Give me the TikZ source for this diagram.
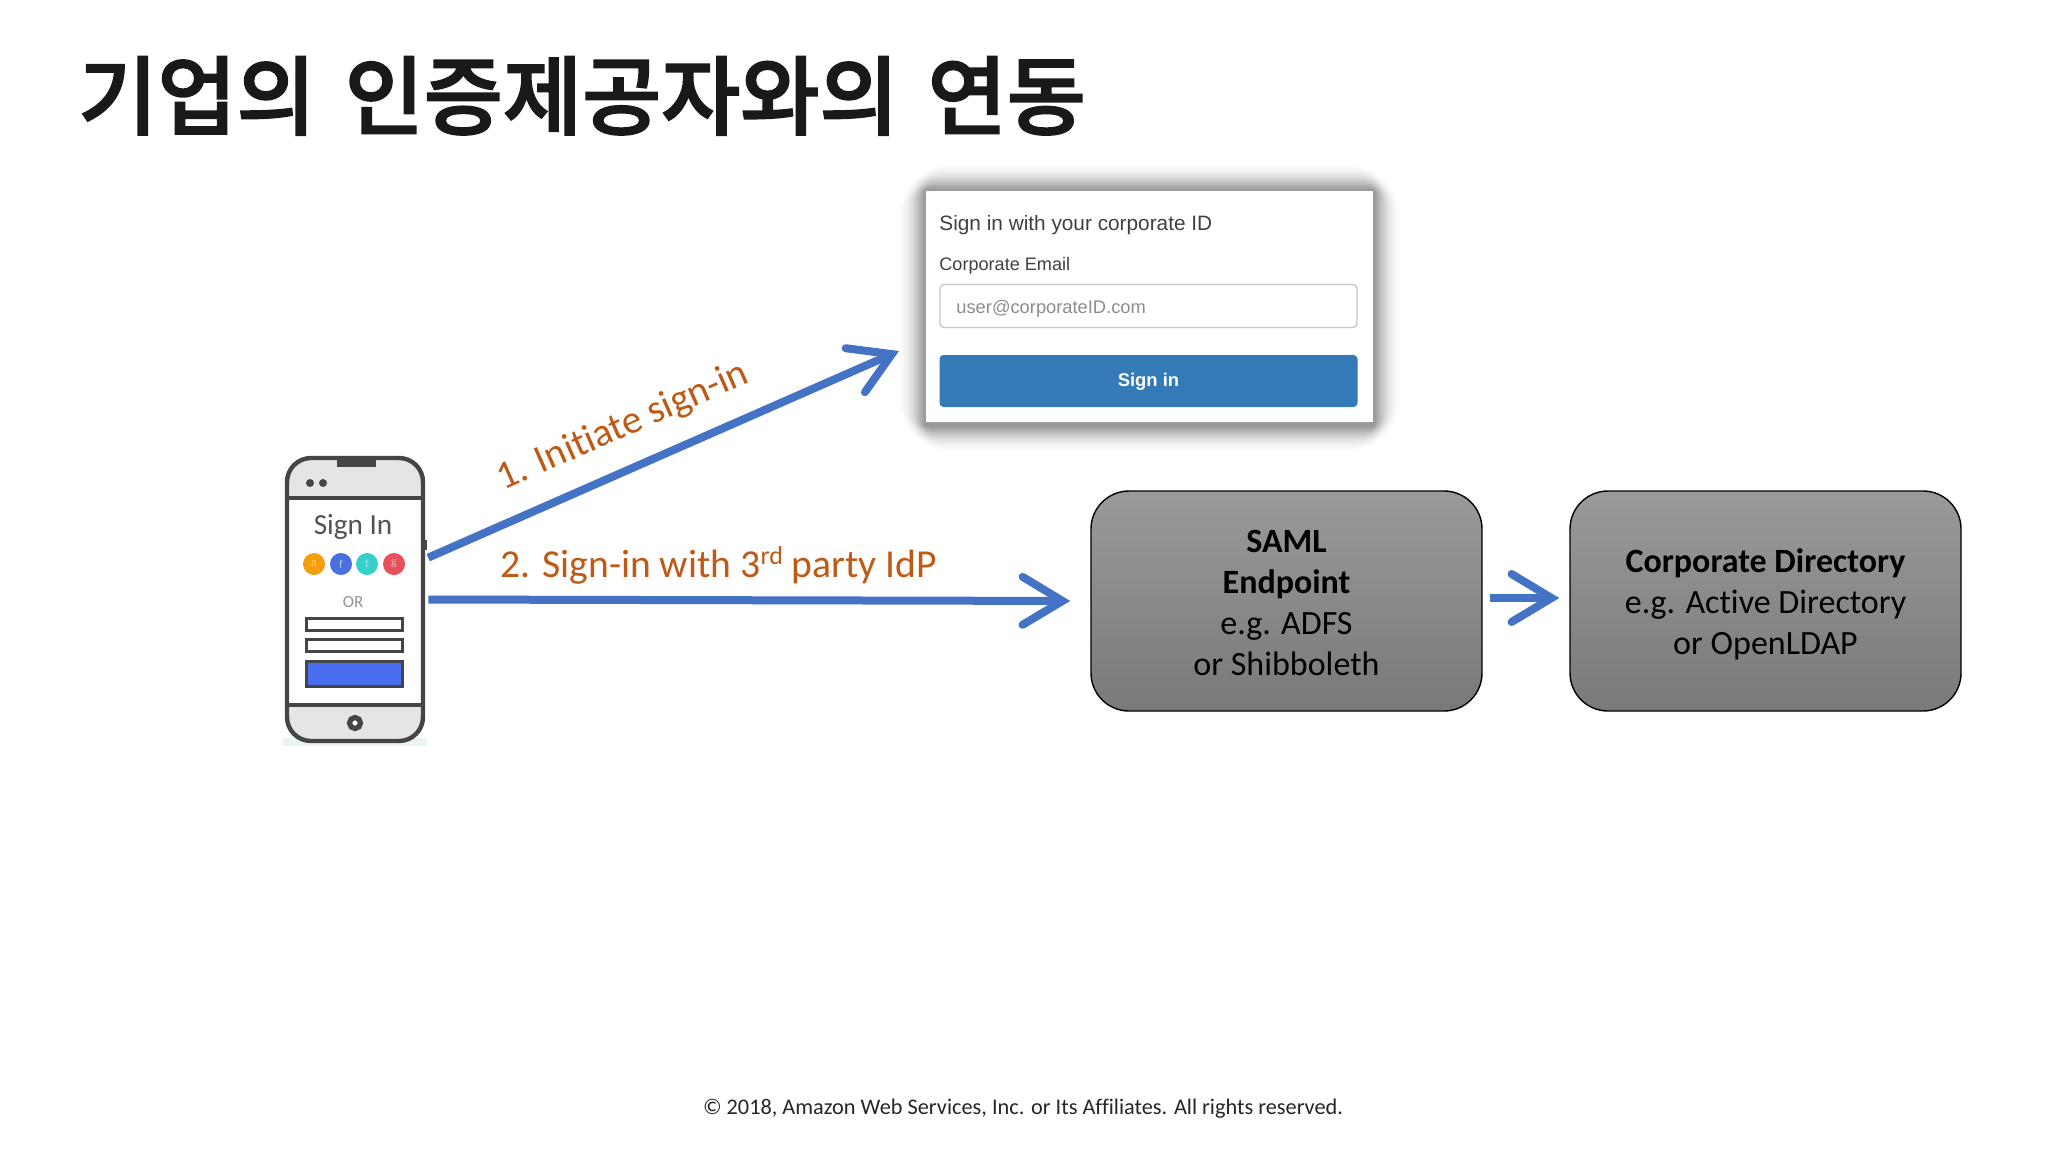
\documentclass[tikz,border=0pt]{standalone}
\usepackage{fontspec}
\setmainfont[Ligatures=NoCommon]{Carlito}
\newfontfamily\krfont[WordSpace=1.5,FakeBold=2]{Noto Sans CJK KR Medium}
\newfontfamily\arialfont{Liberation Sans}
\usetikzlibrary{arrows.meta,calc,shadings}
\definecolor{flow}{HTML}{4472C4}
\definecolor{lbl}{HTML}{BD5A16}
\definecolor{phoneink}{HTML}{454545}
\definecolor{phoneband}{HTML}{E4E5E6}
\definecolor{boxtop}{HTML}{9B999B}
\definecolor{boxbot}{HTML}{7A787A}
\definecolor{cardblue}{HTML}{337AB7}
\definecolor{phonestrip}{HTML}{EAF4F2}
\definecolor{phoneblue}{HTML}{4A6EF0}
\definecolor{socialA}{HTML}{F59E0B}
\definecolor{socialB}{HTML}{4A6FE0}
\definecolor{socialC}{HTML}{35D0CC}
\definecolor{socialD}{HTML}{E8505B}
\newcommand{\fs}[2]{\fontsize{#1pt}{#2pt}\selectfont}
\tikzset{
  flowline/.style={draw=flow,line width=4pt,-{Straight Barb[length=20pt,width=24pt,line width=4pt,line cap=round,line join=miter]}},
  idpbox/.style={draw=black,line width=0.7pt,rounded corners=19pt,top color=boxtop,bottom color=boxbot,
    minimum width=195.5pt,minimum height=110pt,inner sep=0pt,align=center,font=\fs{17}{20.4},text=black},
  cardtext/.style={anchor=base west,inner sep=0pt,font=\arialfont},
  flowlabel/.style={text=lbl,inner sep=0pt,font=\fs{19.8}{22}},
  phonefield/.style={draw=phoneink,line width=1.5pt,inner sep=0pt,fill=white,minimum width=48pt},
  social/.style={circle,minimum size=11pt,inner sep=0pt,text=white,text opacity=0.55,font=\fs{6}{7}},
}
\begin{document}
\begin{tikzpicture}[x=0.5pt,y=-0.5pt]
\useasboundingbox (0,0) rectangle (2048,1152);
\fill[white] (0,0) rectangle (2048,1152);

% title and footer
\node[anchor=base west,inner sep=0pt,text=black!90,font={\krfont\fs{43}{50}}] (title) at (78,128) {기업의 인증제공자와의 연동};
\node[anchor=base,inner sep=0pt,text=black!85,font=\fs{11.15}{13}] (footer) at (1023,1114) {© 2018, Amazon Web Services, Inc. or Its Affiliates. All rights reserved.};

% sign-in card with soft shadow
\foreach \r in {1,...,30}{
  \pgfmathsetmacro{\shade}{0.03*(1-\r/31)}
  \fill[black,opacity=\shade,rounded corners=\r*1pt] (926-\r,191-\r) rectangle (1373+\r,425+\r);
}
\node[fill=white,minimum width=223.5pt,minimum height=115.5pt,inner sep=0pt] (card) at (1149.5,306.5) {};
\node[cardtext,text=black!75,font={\arialfont\fs{10.4}{12}}] (cardhead) at (939,230) {Sign in with your corporate ID};
\node[cardtext,text=black!75,font={\arialfont\fs{9.05}{11}}] (cardmail) at (939,270) {Corporate Email};
\node[draw=black!22,line width=0.7pt,rounded corners=2pt,fill=white,minimum width=208.5pt,minimum height=21.5pt,inner sep=0pt] (cardinput) at (1148.5,306) {};
\node[cardtext,text=black!45,font={\arialfont\fs{9.15}{11}}] (cardhint) at (956,313) {user@corporateID.com};
\node[fill=cardblue,rounded corners=2pt,minimum width=209pt,minimum height=26pt,inner sep=0pt] (cardbtn) at (1148.5,381) {};
\node[inner sep=0pt,text=white,font={\arialfont\bfseries\fs{9.2}{11}}] (cardbtntext) at (1148.5,382) {Sign in};

% phone
\node[minimum width=70pt,minimum height=143.5pt,inner sep=0pt] (phone) at (355,599.5) {};
\fill[phonestrip] (283,738) rectangle (427,746);
\fill[white,rounded corners=12pt] (287,458) rectangle (423,741);
\begin{scope}
  \clip[rounded corners=12pt] (287,458) rectangle (423,741);
  \fill[phoneband] (287,458) rectangle (423,498);
  \fill[phoneband] (287,705) rectangle (423,741);
  \draw[phoneink,line width=2pt] (287,498) -- (423,498);
  \draw[phoneink,line width=2pt] (287,705) -- (423,705);
  \fill[phoneink] (337,456) rectangle (376,467);
\end{scope}
\draw[phoneink,line width=2.2pt,rounded corners=12pt] (287,458) rectangle (423,741);
\fill[phoneink] (424,540) rectangle (427,550);
\fill[phoneink] (310,483) circle[radius=4];
\fill[phoneink] (323,483) circle[radius=4];
\node[inner sep=0pt,text=black!68,font=\fs{14.6}{18}] (signin) at (353,527) {Sign In};
\node[social,fill=socialA] (sa) at (314,564) {a};
\node[social,fill=socialB] (sb) at (341,564) {f};
\node[social,fill=socialC] (sc) at (367,564) {t};
\node[social,fill=socialD] (sd) at (394,564) {g};
\node[inner sep=0pt,text=black!42,font=\fs{8.5}{10}] (orlabel) at (353,602) {OR};
\node[phonefield,minimum height=6pt] (fa) at (354,624) {};
\node[phonefield,minimum height=6pt] (fb) at (354,645.5) {};
\node[phonefield,fill=phoneblue,minimum height=12.5pt] (fc) at (354,673.5) {};
\draw[phoneink,line width=2.6pt,fill=white] (355,723) circle[radius=5.5];

% IdP boxes
\node[idpbox] (saml) at (1286.5,601) {\rule{0pt}{13pt}\textbf{SAML}\\\textbf{Endpoint}\\e.g. ADFS\\or Shibboleth};
\node[idpbox] (corp) at (1765.5,601) {\rule{0pt}{15.5pt}\textbf{Corporate Directory}\\e.g. Active Directory\\or OpenLDAP};

% connectors
\coordinate (cardin) at (899,351);
\draw[flowline,shorten <=1.5pt] (phone.30.7) -- (cardin);
\draw[flowline,shorten <=1.5pt,shorten >=10pt] (phone.east) -- (saml.west);
\draw[flowline,shorten <=3.5pt,shorten >=5pt] ($(saml.east)+(0,-3)$) -- ($(corp.west)+(0,-3)$);

% labels
\node[flowlabel,rotate=23.8] (lblA) at (623,427) {1. Initiate sign-in};
\node[flowlabel,anchor=base west] (lblB) at (500,577) {2. Sign-in with 3\raisebox{6.5pt}{\fs{13}{14}rd} party IdP};
\end{tikzpicture}
\end{document}
